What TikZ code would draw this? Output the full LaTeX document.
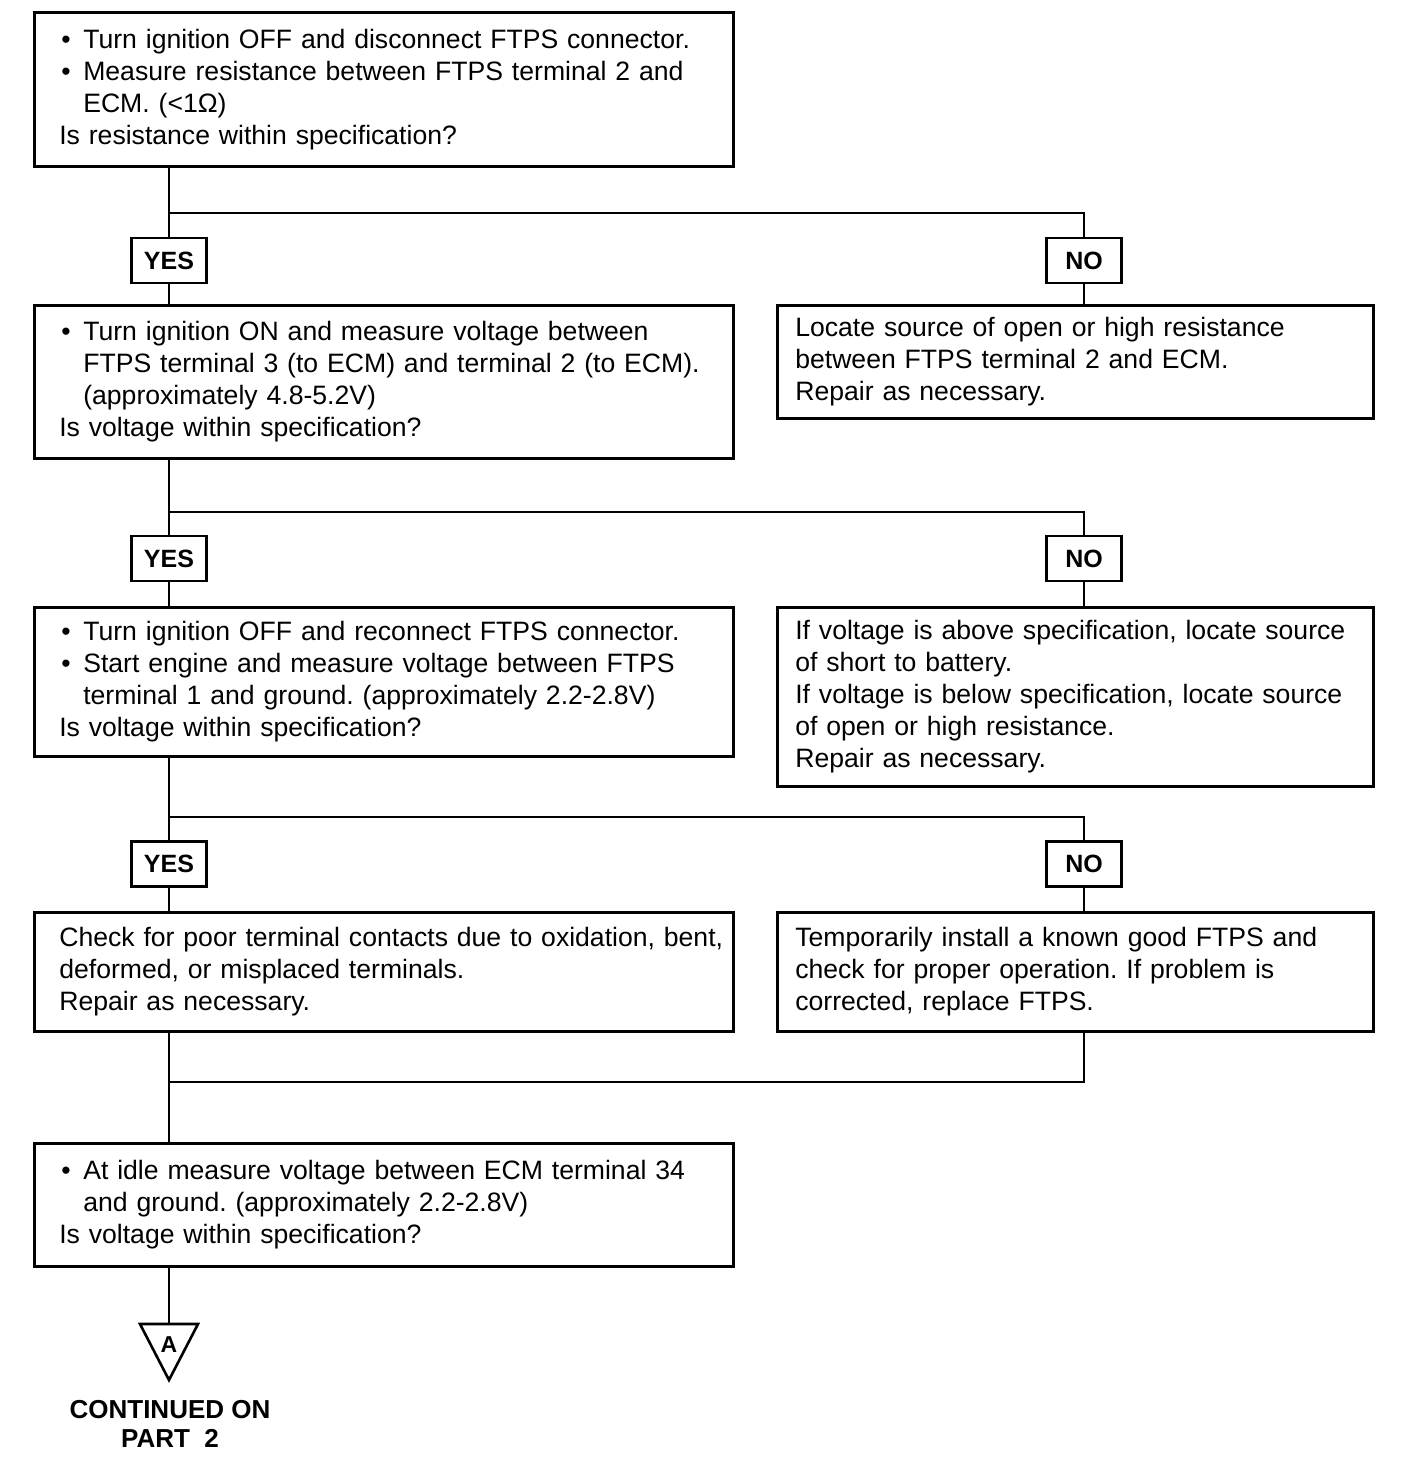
\documentclass[tikz,border=0pt]{standalone}
\usepackage{fontspec}
\setmainfont{Liberation Sans}
\frenchspacing
\newcommand{\bul}{\makebox[24pt][l]{\hspace{2pt}•}}
\newcommand{\ind}{\hspace*{24pt}}
\newcommand{\tline}[1]{\mbox{#1}}
\begin{document}
\begin{tikzpicture}[x=1pt,y=-1pt,line width=2.6pt,
  box/.style={draw, anchor=north west, align=left, inner ysep=0pt,
    font=\fontsize{26.6}{32}\selectfont\frenchspacing},
  lbox/.style={box, text width=649pt, inner xsep=25pt},
  rbox/.style={box, text width=560pt, inner xsep=18pt},
  yn/.style={draw, minimum width=75pt, minimum height=45pt, inner sep=0pt,
    font=\bfseries\fontsize{25}{30}\selectfont},
  cont/.style={align=center, font=\bfseries\fontsize{26}{29}\selectfont}]
\useasboundingbox (0,0) rectangle (1408,1460);

% left column boxes
\node[lbox, minimum height=154pt] (b1) at (33,11) {%
\tline{\bul Turn ignition OFF and disconnect FTPS connector.}\\
\tline{\bul Measure resistance between FTPS terminal 2 and}\\
\tline{\ind ECM. (<1Ω)}\\
\tline{Is resistance within specification?}};

\node[lbox, minimum height=153pt] (b2) at (33,304) {%
\tline{\bul Turn ignition ON and measure voltage between}\\
\tline{\ind FTPS terminal 3 (to ECM) and terminal 2 (to ECM).}\\
\tline{\ind (approximately 4.8-5.2V)}\\
\tline{Is voltage within specification?}};

\node[lbox, minimum height=149pt] (b3) at (33,606) {%
\tline{\bul Turn ignition OFF and reconnect FTPS connector.}\\
\tline{\bul Start engine and measure voltage between FTPS}\\
\tline{\ind terminal 1 and ground. (approximately 2.2-2.8V)}\\
\tline{Is voltage within specification?}};

\node[lbox, minimum height=119pt] (b4) at (33,911) {%
\tline{Check for poor terminal contacts due to oxidation, bent,}\\
\tline{deformed, or misplaced terminals.}\\
\tline{Repair as necessary.}};

\node[lbox, minimum height=123pt] (b5) at (33,1142) {%
\tline{\bul At idle measure voltage between ECM terminal 34}\\
\tline{\ind and ground. (approximately 2.2-2.8V)}\\
\tline{Is voltage within specification?}};

% right column boxes
\node[rbox, minimum height=113pt] (r1) at (776,304) {%
\tline{Locate source of open or high resistance}\\
\tline{between FTPS terminal 2 and ECM.}\\
\tline{Repair as necessary.}};

\node[rbox, minimum height=179pt] (r2) at (776,606) {%
\tline{If voltage is above specification, locate source}\\
\tline{of short to battery.}\\
\tline{If voltage is below specification, locate source}\\
\tline{of open or high resistance.}\\
\tline{Repair as necessary.}};

\node[rbox, minimum height=119pt] (r3) at (776,911) {%
\tline{Temporarily install a known good FTPS and}\\
\tline{check for proper operation. If problem is}\\
\tline{corrected, replace FTPS.}};

% YES / NO labels
\node[yn] (y1) at (169,260.5) {YES};
\node[yn] (n1) at (1084,260.5) {NO};
\node[yn] (y2) at (169,558.5) {YES};
\node[yn] (n2) at (1084,558.5) {NO};
\node[yn] (y3) at (169,864) {YES};
\node[yn] (n3) at (1084,864) {NO};

% junctions
\coordinate (j1) at (169,213);
\coordinate (j2) at (169,512);
\coordinate (j3) at (169,817);
\coordinate (m) at (169,1082);
\coordinate (tt) at (169,1324);

% connectors
\draw (b1.south -| y1.north) -- (y1.north);
\draw (j1) -| (n1.north);
\draw (y1.south) -- (y1.south |- b2.north);
\draw (n1.south) -- (n1.south |- r1.north);

\draw (b2.south -| y2.north) -- (y2.north);
\draw (j2) -| (n2.north);
\draw (y2.south) -- (y2.south |- b3.north);
\draw (n2.south) -- (n2.south |- r2.north);

\draw (b3.south -| y3.north) -- (y3.north);
\draw (j3) -| (n3.north);
\draw (y3.south) -- (y3.south |- b4.north);
\draw (n3.south) -- (n3.south |- r3.north);

\draw (r3.south -| n3.south) |- (m);
\draw (b4.south -| m) -- (b5.north -| m);

\draw (b5.south -| tt) -- (tt);

% off-page connector
\draw[line join=miter] (140,1324) -- (198,1324) -- (169,1380) -- cycle;
\node[font=\bfseries\fontsize{23}{25}\selectfont, inner sep=0pt] (A) at (169,1345) {A};
\node[cont] (c) at (170,1424) {CONTINUED ON\\PART\ \ 2};
\end{tikzpicture}
\end{document}
